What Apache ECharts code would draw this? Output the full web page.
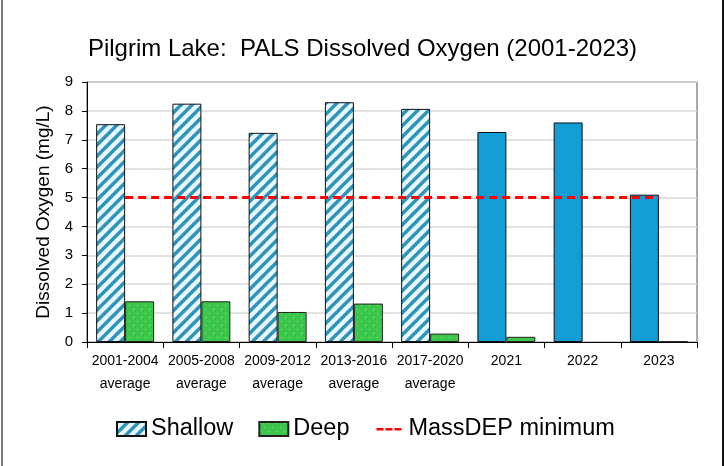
<!DOCTYPE html>
<html>
<head>
<meta charset="utf-8">
<script src="https://cdn.jsdelivr.net/npm/echarts@6/dist/echarts.min.js"></script>
<style>
  html, body { margin:0; padding:0; background:#fff; }
  #wrap { position:relative; width:725px; height:466px; }
  #chart { width:725px; height:466px; }
  #lb { position:absolute; left:1px; top:0; width:2px; height:466px; background:#7a7a7a; }
  #rb { position:absolute; left:722px; top:0; width:2px; height:466px; background:#111; }
</style>
</head>
<body>
<div id="wrap">
  <div id="chart"></div>
  <div id="lb"></div>
  <div id="rb"></div>
</div>
<script>
// categories and values
var categories = ['2001-2004\naverage', '2005-2008\naverage', '2009-2012\naverage',
                  '2013-2016\naverage', '2017-2020\naverage', '2021', '2022', '2023'];
var shallow = [7.54, 8.25, 7.24, 8.3, 8.07, 7.27, 7.6, 5.1];
var deep = [1.41, 1.41, 1.04, 1.33, 0.29, 0.18, null, 0.02];
var massdepMin = [5, 5, 5, 5, 5, 5, 5, 5];
var yTicks = [0, 9, 1]; // min, max, step

// hatched fill for the multi-year averages
function stripePattern(){
  var c = document.createElement('canvas');
  c.width = 11; c.height = 11;
  var g = c.getContext('2d');
  g.fillStyle = '#e8f8fc';
  g.fillRect(0, 0, 11, 11);
  g.strokeStyle = '#2f94b9';
  g.lineWidth = 3.4;
  g.beginPath();
  g.moveTo(-2, 13); g.lineTo(13, -2);
  g.moveTo(-2, 2); g.lineTo(2, -2);
  g.moveTo(9, 13); g.lineTo(13, 9);
  g.stroke();
  return c;
}
// dotted green fill for deep
function dotPattern(){
  var c = document.createElement('canvas');
  c.width = 8; c.height = 8;
  var g = c.getContext('2d');
  g.fillStyle = '#3cc64b';
  g.fillRect(0, 0, 8, 8);
  g.fillStyle = '#8fe49a';
  g.fillRect(1, 1, 1, 1);
  g.fillRect(5, 5, 1, 1);
  return c;
}

var hatch = { image: stripePattern(), repeat: 'repeat' };
var dots = { image: dotPattern(), repeat: 'repeat' };

var shallowData = [];
for (var i = 0; i < shallow.length; i++) {
  if (i < 5) {
    shallowData.push(shallow[i]);
  } else {
    shallowData.push({ value: shallow[i], itemStyle: { color: '#129dd5' } });
  }
}

var chart = echarts.init(document.getElementById('chart'));
var sans = "'Liberation Sans', Arial, sans-serif";
// three red dashes for the legend, padded to the full icon box
var dashIcon = 'path://M0,0h0.01v0.01h-0.01z M0,14h0.01v0.01h-0.01z M29,0h0.01v0.01h-0.01z' +
               'M2,6h7v2.6h-7z M11,6h7v2.6h-7z M20,6h7v2.6h-7z';

var option = {
  animation: false,
  title: {
    text: 'Pilgrim Lake:  PALS Dissolved Oxygen (2001-2023)',
    left: 'center',
    top: 32,
    textStyle: { fontFamily: sans, fontSize: 24, fontWeight: 'normal', color: '#000' }
  },
  legend: {
    top: 412,
    left: 111,
    itemWidth: 29,
    itemHeight: 14,
    itemGap: 25,
    textStyle: { fontFamily: sans, fontSize: 23.5, color: '#000' },
    data: [
      { name: 'Shallow', icon: 'rect' },
      { name: 'Deep', icon: 'rect' },
      { name: 'MassDEP minimum', icon: dashIcon, itemStyle: { color: '#ff0000', borderWidth: 0 } }
    ]
  },
  grid: {
    left: 87, right: 28, top: 82, bottom: 124,
    show: true, borderColor: '#555', borderWidth: 1
  },
  xAxis: {
    type: 'category',
    data: categories,
    axisLine: { lineStyle: { color: '#000', width: 1 } },
    axisTick: { show: true, length: 6, lineStyle: { color: '#000' } },
    axisLabel: {
      interval: 0, margin: 8, lineHeight: 23,
      fontFamily: sans, fontSize: 14, color: '#000'
    }
  },
  yAxis: {
    type: 'value',
    min: yTicks[0], max: yTicks[1], interval: yTicks[2],
    name: 'Dissolved Oxygen (mg/L)',
    nameLocation: 'middle',
    nameGap: 28,
    nameTextStyle: { fontFamily: sans, fontSize: 19, color: '#000' },
    axisLine: { show: true, lineStyle: { color: '#000' } },
    axisTick: { show: true, length: 5, lineStyle: { color: '#000' } },
    axisLabel: { margin: 14, fontFamily: sans, fontSize: 15, color: '#000' },
    splitLine: { show: true, lineStyle: { color: '#d9d9d9', width: 1.5 } }
  },
  series: [
    {
      name: 'Shallow',
      type: 'bar',
      barGap: '0%',
      barCategoryGap: '24%',
      itemStyle: { color: hatch, borderColor: '#111', borderWidth: 1 },
      data: shallowData
    },
    {
      name: 'Deep',
      type: 'bar',
      itemStyle: { color: dots, borderColor: '#222', borderWidth: 1 },
      data: deep
    },
    {
      name: 'MassDEP minimum',
      type: 'line',
      symbol: 'none',
      z: 5,
      lineStyle: { color: '#ff0000', width: 3, type: [8, 5] },
      itemStyle: { color: '#ff0000' },
      data: massdepMin
    }
  ]
};

chart.setOption(option);
</script>
</body>
</html>
